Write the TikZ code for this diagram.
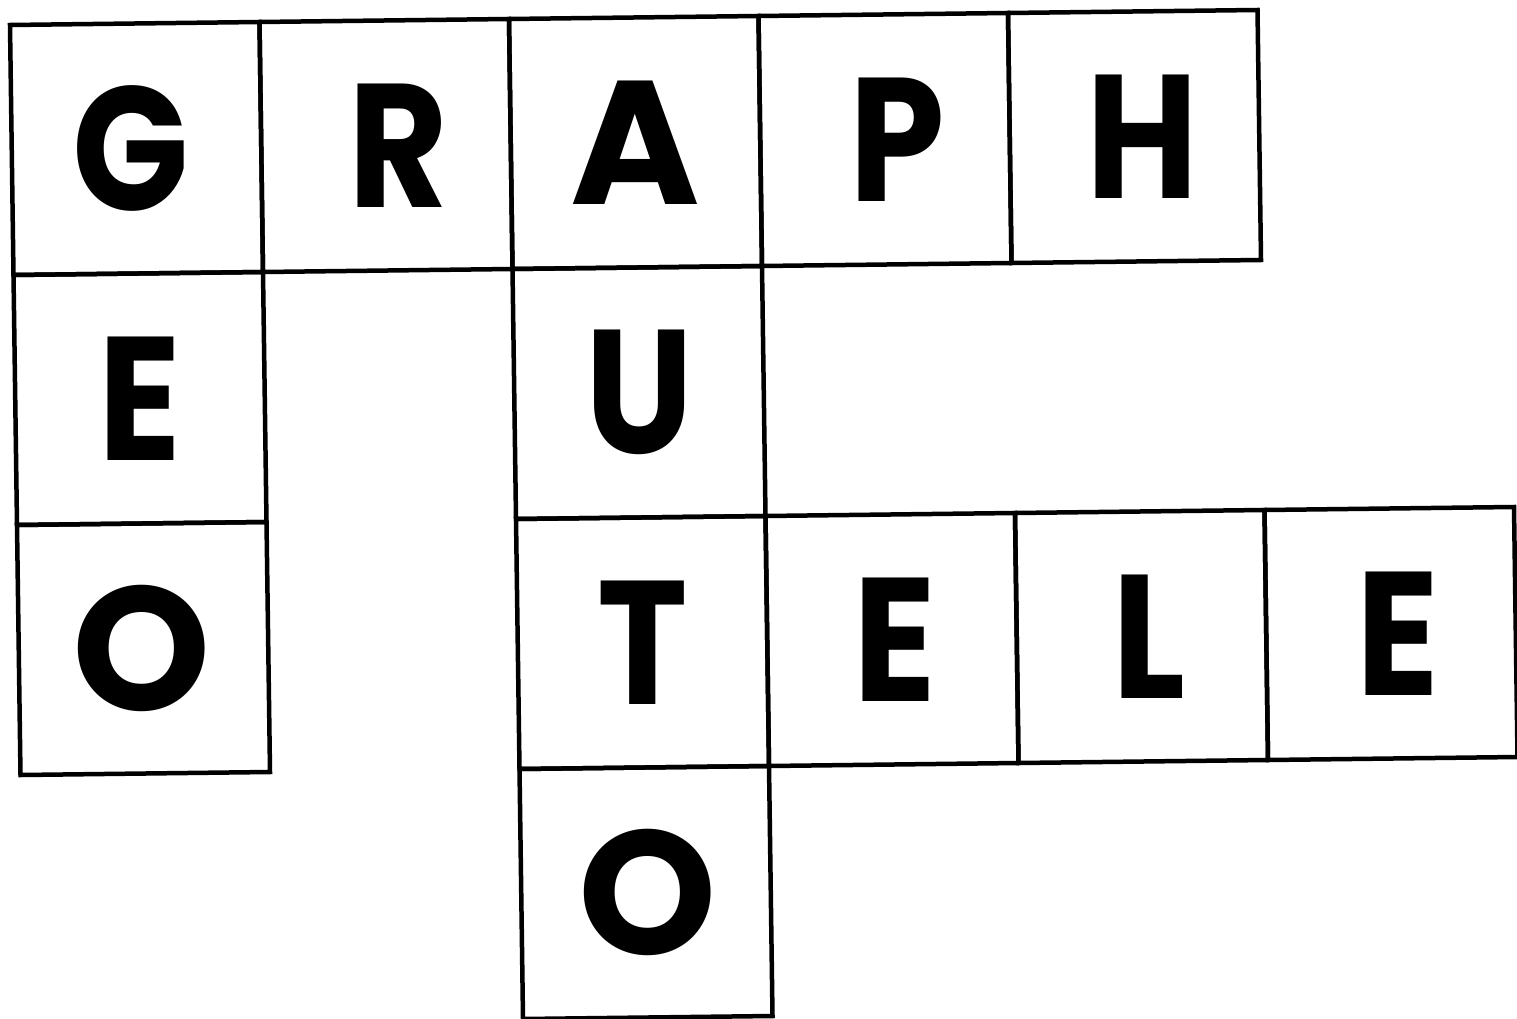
\documentclass[tikz,border=0pt]{standalone}
\usepackage{fontspec}
\setmainfont{Poppins}
\newfontfamily\letterfont{Poppins}[FakeStretch=0.87]
\newfontfamily\wideletterfont{Poppins}
\newcommand\gridcell[6][letter]{%
  \draw[cellline] (#2,#3) -- ++(1,0) -- ++(0,1) -- ++(-1,0) -- cycle;
  \node[#1, xshift=#6pt] (#5) at ({#2+0.5},{#3+0.5}) {#4};}
\begin{document}
\begin{tikzpicture}
\useasboundingbox (0pt,0pt) rectangle (1517pt,-1019pt);
\begin{scope}[shift={(10pt,-25pt)}, x={(249.5pt,3pt)}, y={(3.5pt,-250pt)},
  cellline/.style={line width=4.5pt, line join=miter},
  letter/.style={inner sep=0pt, font=\fontsize{176}{176}\letterfont\bfseries},
  wideletter/.style={inner sep=0pt, font=\fontsize{176}{176}\wideletterfont\bfseries}]
\gridcell{0}{0}{G}{g1}{-6}
\gridcell{1}{0}{R}{r1}{12}
\gridcell[wideletter]{2}{0}{A}{a1}{0}
\gridcell{3}{0}{P}{p1}{12}
\gridcell{4}{0}{H}{h1}{8}
\gridcell{0}{1}{E}{e1}{0}
\gridcell[wideletter]{0}{2}{O}{o1}{-2}
\gridcell{2}{1}{U}{u1}{0}
\gridcell{2}{2}{T}{t1}{0}
\gridcell{3}{2}{E}{e2}{3}
\gridcell{4}{2}{L}{l1}{8}
\gridcell{5}{2}{E}{e3}{7}
\gridcell[wideletter]{2}{3}{O}{o2}{2}
\end{scope}
\end{tikzpicture}
\end{document}
